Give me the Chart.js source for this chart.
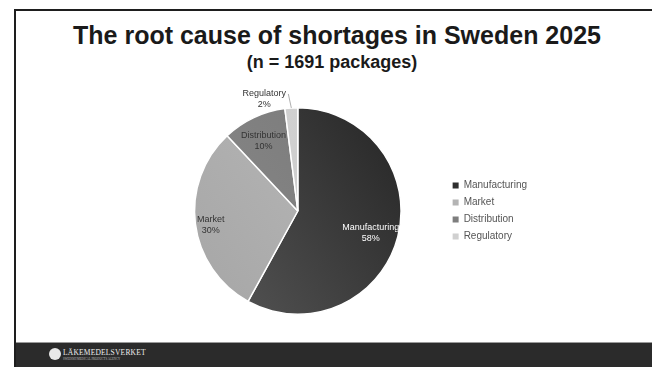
<!DOCTYPE html>
<html>
<head>
<meta charset="utf-8">
<script src="https://cdn.jsdelivr.net/npm/chart.js@4/dist/chart.umd.min.js"></script>
<style>
    body { margin: 0; width: 652px; height: 367px; overflow: hidden; background: #fff; font-family: 'Liberation Sans', Arial, sans-serif; position: relative; }
    .frame { position: absolute; left: 14px; top: 9px; width: 700px; height: 400px; border-left: 2px solid #1e1e1e; border-top: 2px solid #1e1e1e; }
    .title { position: absolute; left: 27px; width: 620px; top: 21px; text-align: center; font-weight: bold; font-size: 25px; color: #1a1a1a; }
    .subtitle { position: absolute; left: 22px; width: 620px; top: 52px; text-align: center; font-weight: bold; font-size: 18px; color: #1a1a1a; }
    .footer { position: absolute; left: 16px; top: 342px; width: 640px; height: 25px; background: #2b2b2b; border-top: 1px solid #9a9a9a; }
    .logo { position: absolute; left: 33px; top: 5px; color: #eee; font-family: 'Liberation Serif', serif; }
    .logo .mark { display: inline-block; width: 12px; height: 12px; border-radius: 50%; background: #e8e8e8; vertical-align: top; margin-right: 2px; }
    .logo .name { font-size: 7.5px; letter-spacing: 0.2px; vertical-align: top; }
    .logo .sub { position: absolute; left: 14px; top: 9px; font-size: 3px; white-space: nowrap; color: #bbb; }
    #wrap { position: absolute; left: 150px; top: 80px; width: 420px; height: 250px; }
</style>
</head>
<body>
<div class="frame"></div>
<div class="title">The root cause of shortages in Sweden 2025</div>
<div class="subtitle">(n = 1691 packages)</div>
<div id="wrap"><canvas id="chart"></canvas></div>
<div class="footer">
    <div class="logo"><span class="mark"></span><span class="name">LÄKEMEDELSVERKET</span><span class="sub">SWEDISH MEDICAL PRODUCTS AGENCY</span></div>
</div>
<script>
const causes = ['Manufacturing', 'Market', 'Distribution', 'Regulatory'];
const shares = [58, 30, 10, 2];

// gradient stops per slice, top -> bottom
const sliceShades = [['#1f1f1f', '#5e5e5e'], ['#bdbdbd', '#a3a3a3'], ['#767676', '#8c8c8c'], ['#d4d4d4', '#c8c8c8']];
const legendColors = ['#2e2e2e', '#b4b4b4', '#7e7e7e', '#d0d0d0'];
const labelColors = ['#ffffff', '#333333', '#333333', '#333333'];
// how far along the radius each inside label sits
const labelRadius = [0.73, 0.85, 0.78, null];

const sliceLabels = {
    id: 'sliceLabels',
    afterDatasetsDraw(chart) {
        const ctx = chart.ctx;
        const meta = chart.getDatasetMeta(0);
        ctx.save();
        ctx.font = '9px "Liberation Sans", Arial, sans-serif';
        ctx.textAlign = 'center';
        ctx.textBaseline = 'middle';
        meta.data.forEach((arc, i) => {
            const p = arc.getProps(['x', 'y', 'startAngle', 'endAngle', 'outerRadius']);
            const mid = (p.startAngle + p.endAngle) / 2;
            const text = [causes[i], shares[i] + '%'];
            if (labelRadius[i] !== null) {
                const x = p.x + Math.cos(mid) * p.outerRadius * labelRadius[i];
                const y = p.y + Math.sin(mid) * p.outerRadius * labelRadius[i] + 3;
                ctx.fillStyle = labelColors[i];
                ctx.fillText(text[0], x, y - 5.5);
                ctx.fillText(text[1], x, y + 5.5);
            } else {
                // small slice: label outside with a leader line
                const ex = p.x + Math.cos(mid) * p.outerRadius;
                const ey = p.y + Math.sin(mid) * p.outerRadius;
                ctx.strokeStyle = '#999';
                ctx.lineWidth = 0.8;
                ctx.beginPath();
                ctx.moveTo(ex, ey);
                ctx.lineTo(ex - 3, ey - 14);
                ctx.stroke();
                ctx.fillStyle = labelColors[i];
                ctx.fillText(text[0], ex - 27, ey - 14);
                ctx.fillText(text[1], ex - 27, ey - 3);
            }
        });
        ctx.restore();
    }
};

new Chart(document.getElementById('chart'), {
    type: 'pie',
    data: {
        labels: causes,
        datasets: [{
            data: shares,
            backgroundColor: (c) => {
                const area = c.chart.chartArea;
                if (!area) return legendColors[c.dataIndex];
                const s = sliceShades[c.dataIndex];
                const g = c.chart.ctx.createLinearGradient(area.right, area.top, area.left, area.bottom);
                g.addColorStop(0, s[0]);
                g.addColorStop(1, s[1]);
                return g;
            },
            borderColor: '#ffffff',
            borderWidth: 1.5,
        }],
    },
    options: {
        responsive: true,
        maintainAspectRatio: false,
        animation: false,
        layout: { padding: { top: 27, bottom: 15, left: 0, right: 33 } },
        plugins: {
            legend: {
                position: 'right',
                labels: {
                    boxWidth: 6,
                    boxHeight: 6,
                    padding: 7,
                    color: '#555',
                    font: { size: 10, family: '"Liberation Sans", Arial, sans-serif' },
                    generateLabels: (chart) => {
                        const items = Chart.overrides.pie.plugins.legend.labels.generateLabels(chart);
                        items.forEach((it, i) => { it.fillStyle = legendColors[i]; it.strokeStyle = legendColors[i]; it.lineWidth = 0; });
                        return items;
                    },
                },
            },
            tooltip: { enabled: false },
        },
    },
    plugins: [sliceLabels],
});
</script>
</body>
</html>
